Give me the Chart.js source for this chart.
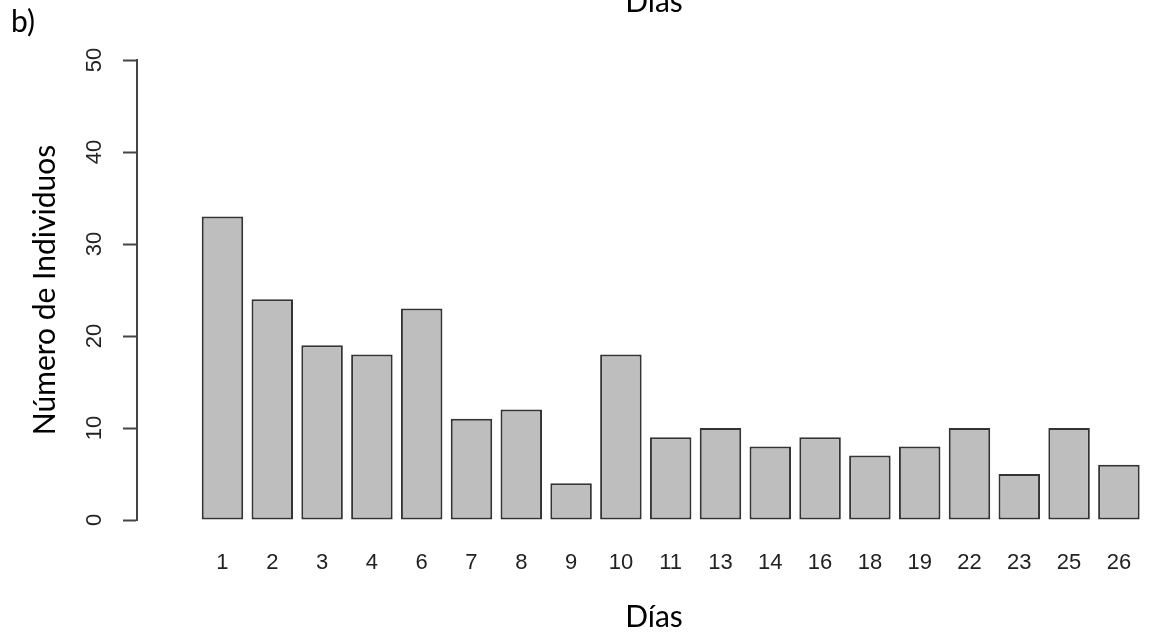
<!DOCTYPE html>
<html lang="es">
<head>
<meta charset="utf-8">
<title>Individuos por día</title>
<script src="https://cdn.jsdelivr.net/npm/chart.js@4.4.1/dist/chart.umd.min.js"></script>
<style>
  html, body { margin: 0; padding: 0; background: #fff; }
  #contenedor { position: relative; width: 1171px; height: 637px; }
  #etiqueta {
    position: absolute; left: 11px; top: 5px;
    font: 30px Lato, sans-serif; line-height: 1; color: #000;
  }
</style>
</head>
<body>
<div id="contenedor">
  <canvas id="grafico"></canvas>
  <div id="etiqueta">b)</div>
</div>
<script>
// Datos: días de muestreo y número de individuos observados
const dias = ["1", "2", "3", "4", "6", "7", "8", "9", "10", "11", "13", "14", "16", "18", "19", "22", "23", "25", "26"];
const individuos = [33, 24, 19, 18, 23, 11, 12, 4, 18, 9, 10, 8, 9, 7, 8, 10, 5, 10, 6];
const marcasY = [0, 10, 20, 30, 40, 50];

// disposición tipo barplot de R: barras de ancho 1 separadas por 0.2
const anchoBarra = 1;
const espacio = 0.2;
const centros = dias.map((d, i) => espacio + anchoBarra / 2 + i * (anchoBarra + espacio));
const totalX = dias.length * (anchoBarra + espacio);
const minX = espacio - 0.04 * (totalX - espacio);

const fuenteTitulo = { family: "Lato, 'Open Sans', sans-serif", size: 30 };
const fuenteMarcas = { family: "'Liberation Sans', Arial, sans-serif", size: 22 };

new Chart(document.getElementById("grafico"), {
  type: "bar",
  data: {
    datasets: [{
      label: "Número de Individuos",
      data: individuos.map((v, i) => ({ x: centros[i], y: v })),
      backgroundColor: "#bebebe",
      borderColor: "#333333",
      borderWidth: 2,
      borderSkipped: false,
      categoryPercentage: 1,
      barPercentage: anchoBarra / (anchoBarra + espacio)
    }]
  },
  options: {
    responsive: true,
    maintainAspectRatio: false,
    animation: false,
    layout: { padding: 0 },
    plugins: {
      legend: { display: false },
      tooltip: { enabled: false }
    },
    scales: {
      x: {
        type: "linear",
        position: "bottom",
        min: minX,
        max: 22.9,
        grid: { display: false, drawTicks: false },
        border: { display: false },
        afterBuildTicks: (eje) => { eje.ticks = centros.map(c => ({ value: c })); },
        ticks: {
          autoSkip: false,
          maxRotation: 0,
          padding: 30,
          color: "#222",
          font: fuenteMarcas,
          callback: (valor, indice) => dias[indice]
        },
        title: {
          display: true,
          text: "Días",
          color: "#000",
          font: fuenteTitulo,
          padding: { top: 0, bottom: 1.3 }
        },
        afterFit: (eje) => { eje.height = 117; }
      },
      xArriba: {
        type: "linear",
        position: "top",
        grid: { display: false },
        border: { display: false },
        ticks: { display: false },
        title: {
          display: true,
          text: "Días",
          color: "#000",
          font: fuenteTitulo,
          padding: { top: -15.6, bottom: 0 }
        },
        afterFit: (eje) => { eje.height = 60; }
      },
      y: {
        min: 0,
        max: 50,
        afterBuildTicks: (eje) => { eje.ticks = marcasY.map(v => ({ value: v })); },
        ticks: {
          minRotation: 90,
          maxRotation: 90,
          crossAlign: "center",
          padding: 16,
          color: "#222",
          font: fuenteMarcas
        },
        grid: {
          drawOnChartArea: false,
          drawTicks: true,
          tickLength: 14,
          tickWidth: 2,
          tickColor: "#444"
        },
        border: { display: true, color: "#444", width: 2 },
        title: {
          display: true,
          text: "Número de Individuos",
          color: "#000",
          font: fuenteTitulo,
          padding: { top: 27, bottom: 0 }
        },
        afterFit: (eje) => { eje.width = 137; }
      }
    }
  }
});
</script>
</body>
</html>
